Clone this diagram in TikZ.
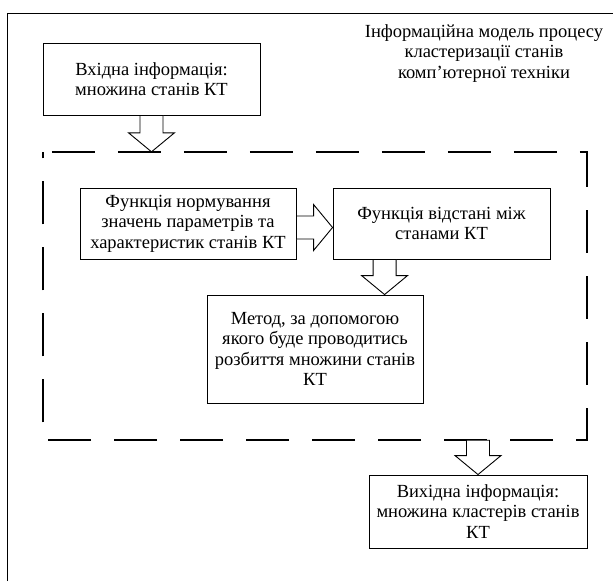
\documentclass[tikz,border=0pt]{standalone}
\usepackage{fontspec}
\setmainfont{Liberation Serif}
\usetikzlibrary{positioning,calc}

\begin{document}
\begin{tikzpicture}[x=1pt, y=-1pt,
    font=\fontsize{18.5}{20.5}\selectfont,
    box/.style={rectangle, draw, line width=0.9pt, align=center, inner sep=2pt},
    groupline/.style={line width=2.2pt, dash pattern=on 43pt off 23pt, dash phase=57pt},
    bigarrow/.style={draw, fill=white, line width=0.9pt, line join=miter,
        to path={($(\tikztostart)!11.5pt!-90:(\tikztotarget)$)
          -- ($(\tikztotarget)!22.21pt!31.18:(\tikztostart)$)
          -- ($(\tikztotarget)!29.83pt!50.44:(\tikztostart)$)
          -- (\tikztotarget)
          -- ($(\tikztotarget)!29.83pt!-50.44:(\tikztostart)$)
          -- ($(\tikztotarget)!22.21pt!-31.18:(\tikztostart)$)
          -- ($(\tikztostart)!11.5pt!90:(\tikztotarget)$) -- cycle}}]
    \useasboundingbox (0,0) rectangle (615,581);

    % Frame
    \draw[line width=0.9pt] (7,581) -- (7,13) -- (613,13);

    % Title
    \node[align=center] (title) at (484, 53.5)
        {Інформаційна модель процесу\\кластеризації станів\\комп’ютерної техніки};

    % Input and output
    \node[box, minimum width=217, minimum height=72] (in) at (151.5, 79)
        {Вхідна інформація:\\множина станів КТ};
    \node[box, minimum width=218, minimum height=73] (out) at (478, 511.5)
        {Вихідна інформація:\\множина кластерів станів\\КТ};

    % Model (dashed group)
    \node[minimum width=544, minimum height=288, inner sep=0pt] (grp) at (315, 296) {};
    \draw[groupline] (grp.north west) -- (grp.north east) -- (grp.south east)
        -- (grp.south west) -- cycle;
    \node[box, minimum width=216, minimum height=71] (norm) at (188, 223.5)
        {Функція нормування\\значень параметрів та\\характеристик станів КТ};
    \node[box, minimum width=217, minimum height=71] (dist) at (441.5, 223.5)
        {Функція відстані між\\станами КТ};
    \node[box, minimum width=216, minimum height=108] (meth) at (315, 349)
        {Метод, за допомогою\\якого буде проводитись\\розбиття множини станів\\КТ};

    % Arrows
    \coordinate (ra) at ([yshift=-4pt]norm.east);
    \coordinate (da) at ([xshift=52pt]dist.south west);
    \draw[bigarrow] (in.south) to (in.south |- grp.north);
    \draw[bigarrow] (ra) to (ra -| dist.west);
    \draw[bigarrow] (da) to (da |- meth.north);
    \draw[bigarrow] (out.north |- grp.south) to (out.north);
\end{tikzpicture}
\end{document}
